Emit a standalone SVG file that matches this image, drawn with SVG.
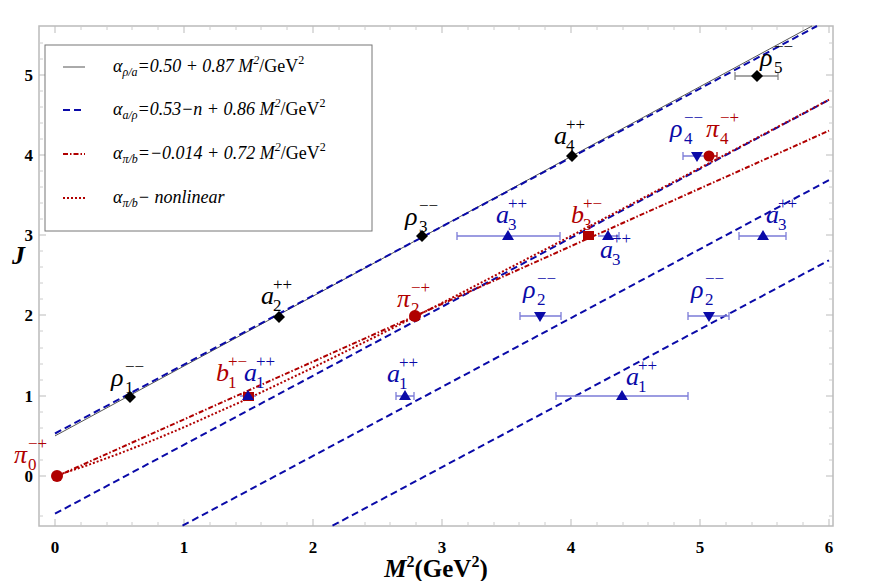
<svg xmlns="http://www.w3.org/2000/svg" width="872" height="581" viewBox="0 0 872 581">
<style>
text{font-family:"Liberation Serif",serif}
.tk{font-size:17px;font-weight:bold}
.lg{font-size:18px;font-style:italic}
.lgs{font-size:12px;font-style:italic}
.up{font-style:normal}
.L{font-size:26px;font-style:italic}
.s{font-size:17px}
.k{fill:#000}.b{fill:#0a0aa8}.r{fill:#b00000}
.eb{stroke:#7c7cd8;stroke-width:1.3;fill:none}
.ebk{stroke:#888;stroke-width:1.3;fill:none}
.ebr{stroke:#b00000;stroke-width:1.3;fill:none}
.blue{stroke:#0a0aa8;stroke-width:2;fill:none;stroke-dasharray:7 4}
.blk{stroke:#555;stroke-width:1;fill:none}
.rdd{stroke:#b00000;stroke-width:2;fill:none;stroke-dasharray:5 2 1.5 2}
.rdt{stroke:#b00000;stroke-width:2;fill:none;stroke-dasharray:2 2}
</style>
<rect width="872" height="581" fill="#fff"/>
<g id="frame">
<rect x="39" y="26" width="794" height="500" fill="none" stroke="#bbb" stroke-width="1.5"/>
<path stroke="#bbb" stroke-width="1" d="M55 526v-7M184 526v-7M313 526v-7M442 526v-7M571 526v-7M700 526v-7M829 526v-7M55 26v7M184 26v7M313 26v7M442 26v7M571 26v7M700 26v7M829 26v7M39 476h7M39 396h7M39 315h7M39 235h7M39 155h7M39 75h7M833 476h-7M833 396h-7M833 315h-7M833 235h-7M833 155h-7M833 75h-7"/>
<path stroke="#ccc" stroke-width="1" d="M81 526v-4M107 526v-4M132 526v-4M158 526v-4M210 526v-4M236 526v-4M261 526v-4M287 526v-4M339 526v-4M365 526v-4M390 526v-4M416 526v-4M468 526v-4M494 526v-4M519 526v-4M545 526v-4M597 526v-4M623 526v-4M648 526v-4M674 526v-4M726 526v-4M752 526v-4M777 526v-4M803 526v-4M81 26v4M107 26v4M132 26v4M158 26v4M210 26v4M236 26v4M261 26v4M287 26v4M339 26v4M365 26v4M390 26v4M416 26v4M468 26v4M494 26v4M519 26v4M545 26v4M597 26v4M623 26v4M648 26v4M674 26v4M726 26v4M752 26v4M777 26v4M803 26v4M39 516h4M39 460h4M39 444h4M39 428h4M39 412h4M39 380h4M39 364h4M39 348h4M39 331h4M39 299h4M39 283h4M39 267h4M39 251h4M39 219h4M39 203h4M39 187h4M39 171h4M39 139h4M39 123h4M39 107h4M39 91h4M39 59h4M39 43h4M833 516h-4M833 460h-4M833 444h-4M833 428h-4M833 412h-4M833 380h-4M833 364h-4M833 348h-4M833 331h-4M833 299h-4M833 283h-4M833 267h-4M833 251h-4M833 219h-4M833 203h-4M833 187h-4M833 171h-4M833 139h-4M833 123h-4M833 107h-4M833 91h-4M833 59h-4M833 43h-4"/>
<g class="tk" text-anchor="middle">
<text x="55" y="553">0</text><text x="184" y="553">1</text><text x="313" y="553">2</text><text x="442" y="553">3</text><text x="571" y="553">4</text><text x="700" y="553">5</text><text x="829" y="553">6</text>
</g>
<g class="tk" text-anchor="end">
<text x="33" y="482">0</text><text x="33" y="402">1</text><text x="33" y="321">2</text><text x="33" y="241">3</text><text x="33" y="161">4</text><text x="33" y="81">5</text>
</g>
<text x="12" y="264" font-size="26" font-weight="bold" font-style="italic">J</text>
<text x="436" y="577" font-size="25" font-weight="bold" text-anchor="middle"><tspan font-style="italic">M</tspan><tspan font-size="16" dy="-10">2</tspan><tspan dy="10">(GeV</tspan><tspan font-size="16" dy="-10">2</tspan><tspan dy="10">)</tspan></text>
</g>
<g id="connectors">
<path class="blk" d="M55 435.9L812 26"/>
<path class="blue" d="M55 433.5L817 26"/>
<path class="blue" d="M55 513.7L829 99.9"/>
<path class="blue" d="M182.5 525.7L829 180.1"/>
<path class="blue" d="M332.5 525.7L829 260.3"/>
<path class="rdd" d="M55 477.1L829 130.7"/>
<path class="rdt" d="M55 476L87.3 465.3L119.5 453.5L151.8 440.8L184 427.2L248.5 398.4L313 367.6L377.5 335.7L442 303L571 236L700 168L829 99.7"/>
</g>
<g id="errorbars">
<path class="eb" d="M396 396h18M396 392v8M414 392v8M556 396h132M556 392v8M688 392v8M520 316h41M520 312v8M561 312v8M688 316h41M688 312v8M729 312v8M457 236h103M457 232v8M560 232v8M598 236h21M619 232v8M739 236h47M739 232v8M786 232v8M683 156h26M683 152v8M240 396h16"/>
<path class="ebk" d="M735 76h43M735 72v8M778 72v8"/>
<path class="ebr" d="M584 236h10M709 156h8M717 152v8"/>
</g>
<g id="points">
<circle class="r" cx="57" cy="476" r="6"/>
<path class="k" d="M130 391l6 6-6 6-6-6z"/>
<rect class="r" x="243" y="392" width="11" height="9"/>
<path class="b" d="M248 390l6 10h-12z"/>
<path class="b" d="M405 390l6 10h-12z"/>
<path class="b" d="M622 390l6 10h-12z"/>
<path class="k" d="M279 311l6 6-6 6-6-6z"/>
<circle class="r" cx="415" cy="316" r="6"/>
<path class="b" d="M540 322l6-10h-12z"/>
<path class="b" d="M709 322l6-10h-12z"/>
<path class="k" d="M422 230l6 6-6 6-6-6z"/>
<path class="b" d="M508 230l6 10h-12z"/>
<rect class="r" x="583" y="231" width="11" height="9"/>
<path class="b" d="M608 230l6 10h-12z"/>
<path class="b" d="M763 230l6 10h-12z"/>
<path class="k" d="M572 150l6 6-6 6-6-6z"/>
<path class="b" d="M697 162l6-10h-12z"/>
<circle class="r" cx="709" cy="156" r="5.5"/>
<path class="k" d="M757 70l6 6-6 6-6-6z"/>
</g>
<g id="labels">
<g class="r"><text class="L" x="14" y="463">π</text><text class="s" x="28" y="470">0</text><text class="s" x="28" y="449">−+</text></g>
<g class="k"><text class="L" x="111" y="386">ρ</text><text class="s" x="125" y="393">1</text><text class="s" x="125" y="372">−−</text></g>
<g class="r"><text class="L" x="216" y="381">b</text><text class="s" x="228" y="388">1</text><text class="s" x="228" y="367">+−</text></g>
<g class="b"><text class="L" x="244" y="381">a</text><text class="s" x="256" y="388">1</text><text class="s" x="256" y="367">++</text></g>
<g class="b"><text class="L" x="387" y="382">a</text><text class="s" x="399" y="389">1</text><text class="s" x="399" y="368">++</text></g>
<g class="b"><text class="L" x="626" y="385">a</text><text class="s" x="638" y="392">1</text><text class="s" x="638" y="371">++</text></g>
<g class="k"><text class="L" x="261" y="304">a</text><text class="s" x="273" y="311">2</text><text class="s" x="273" y="290">++</text></g>
<g class="r"><text class="L" x="397" y="307">π</text><text class="s" x="411" y="314">2</text><text class="s" x="411" y="293">−+</text></g>
<g class="b"><text class="L" x="523" y="298">ρ</text><text class="s" x="537" y="305">2</text><text class="s" x="537" y="284">−−</text></g>
<g class="b"><text class="L" x="691" y="298">ρ</text><text class="s" x="705" y="305">2</text><text class="s" x="705" y="284">−−</text></g>
<g class="k"><text class="L" x="405" y="225">ρ</text><text class="s" x="419" y="232">3</text><text class="s" x="419" y="211">−−</text></g>
<g class="b"><text class="L" x="496" y="223">a</text><text class="s" x="508" y="230">3</text><text class="s" x="508" y="209">++</text></g>
<g class="r"><text class="L" x="571" y="223">b</text><text class="s" x="583" y="230">3</text><text class="s" x="583" y="209">+−</text></g>
<g class="b"><text class="L" x="600" y="258">a</text><text class="s" x="612" y="265">3</text><text class="s" x="612" y="244">++</text></g>
<g class="b"><text class="L" x="766" y="223">a</text><text class="s" x="778" y="230">3</text><text class="s" x="778" y="209">++</text></g>
<g class="k"><text class="L" x="554" y="144">a</text><text class="s" x="566" y="151">4</text><text class="s" x="566" y="130">++</text></g>
<g class="b"><text class="L" x="670" y="137">ρ</text><text class="s" x="684" y="144">4</text><text class="s" x="684" y="123">−−</text></g>
<g class="r"><text class="L" x="706" y="137">π</text><text class="s" x="720" y="144">4</text><text class="s" x="720" y="123">−+</text></g>
<g class="k"><text class="L" x="760" y="66">ρ</text><text class="s" x="774" y="73">5</text><text class="s" x="774" y="52">−−</text></g>
</g>
<g id="legend">
<rect x="45" y="45" width="327" height="186" fill="#fff" stroke="#777" stroke-width="1"/>
<path class="blk" d="M63 67h22"/>
<path class="blue" d="M63 110h22" stroke-dasharray="5 2.5"/>
<path class="rdd" d="M63 154h22" stroke-dasharray="4 1.5 1.5 1.5"/>
<path class="rdt" d="M63 198h22"/>
<text class="lg" x="113" y="72">α<tspan class="lgs" dy="4">ρ/a</tspan><tspan dy="-4">=0.50 + 0.87 M</tspan><tspan font-size="12" dy="-8">2</tspan><tspan class="up" dy="8">/GeV</tspan><tspan class="up" font-size="12" dy="-8">2</tspan></text>
<text class="lg" x="113" y="115">α<tspan class="lgs" dy="4">a/ρ</tspan><tspan dy="-4">=0.53−n + 0.86 M</tspan><tspan font-size="12" dy="-8">2</tspan><tspan class="up" dy="8">/GeV</tspan><tspan class="up" font-size="12" dy="-8">2</tspan></text>
<text class="lg" x="113" y="159">α<tspan class="lgs" dy="4">π/b</tspan><tspan dy="-4">=−0.014 + 0.72 M</tspan><tspan font-size="12" dy="-8">2</tspan><tspan class="up" dy="8">/GeV</tspan><tspan class="up" font-size="12" dy="-8">2</tspan></text>
<text class="lg" x="113" y="203">α<tspan class="lgs" dy="4">π/b</tspan><tspan dy="-4">− nonlinear</tspan></text>
</g>
</svg>
